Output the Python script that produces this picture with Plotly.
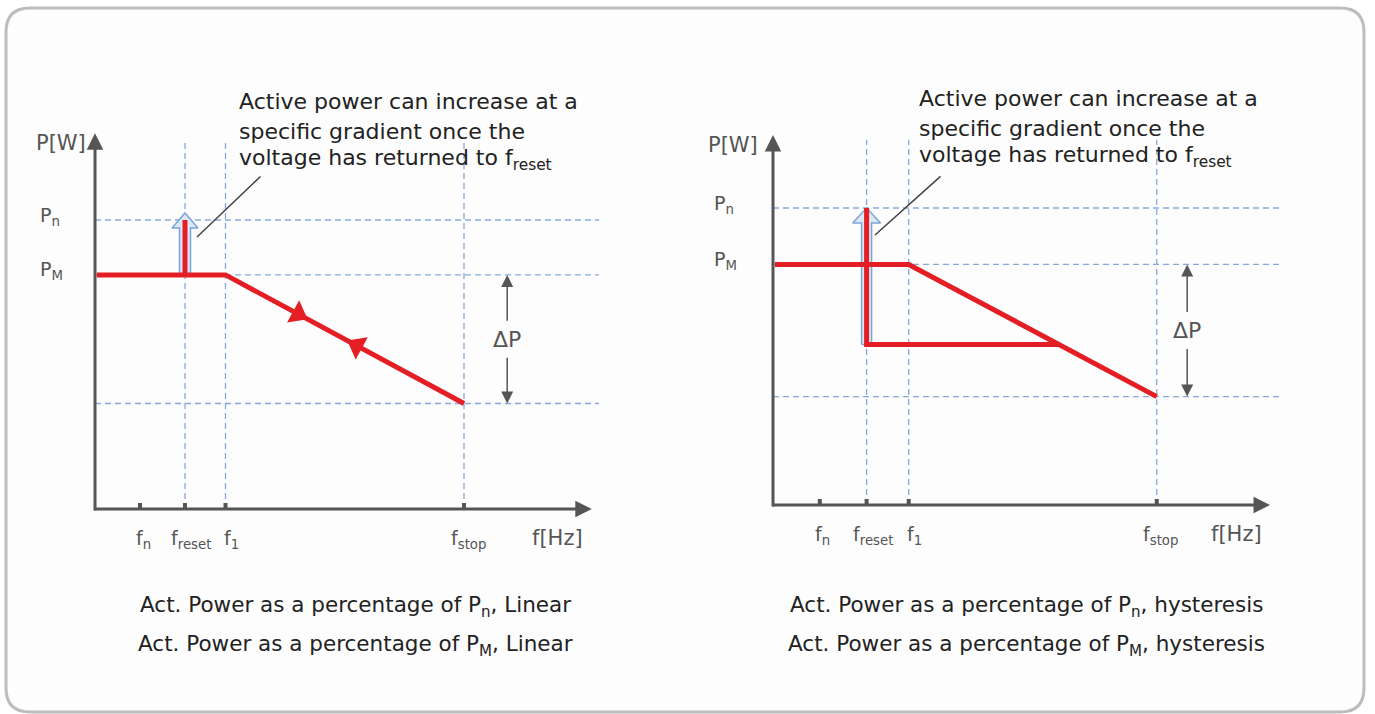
import plotly.graph_objects as go

# frequency points on the f axis (schematic units)
F_TICKS = ["f<sub>n</sub>", "f<sub>reset</sub>", "f<sub>1</sub>", "f<sub>stop</sub>"]
F_N = 1.0
F_RESET = 2.0
F_1 = 2.9
F_STOP = 8.2
F_HYST = 6.1  # hysteresis level meets the droop line

# power levels (fraction of Pn)
P_N = 1.0
P_M = 0.81
P_STOP = 0.365
P_HYST = 0.54
P_TICKS = ["P<sub>n</sub>", "P<sub>M</sub>"]

# direction markers on the linear droop
DIR_F = [4.51, 5.82]
DIR_P = [0.675, 0.565]
DIR_SYMBOLS = ["triangle-right", "triangle-left"]

NOTE_LINES = [
    "Active power can increase at a",
    "specific gradient once the",
    "voltage has returned to f<sub>reset</sub>",
]
CAPTIONS = [
    ["Act. Power as a percentage of P<sub>n</sub>, Linear",
     "Act. Power as a percentage of P<sub>M</sub>, Linear"],
    ["Act. Power as a percentage of P<sub>n</sub>, hysteresis",
     "Act. Power as a percentage of P<sub>M</sub>, hysteresis"],
]

W, H = 1375, 714
FONT = "DejaVu Sans"
RED = "#e31e24"
GUIDE = "#86a9dc"
AXIS = "#555555"
TEXT = "#222222"

# pixel layout of each panel (origin, px per unit, extents)
PANELS = [
    dict(ox=95, oy=509, sx=45.0, sy=289.0, x_end=11.04, y_end=1.30,
         guide_top=1.27, guide_right=11.2, dp_f=9.16, tip_px=7,
         shaft=5.5, head=13, lx=38, wx=88, note_x=237, note_y=[102, 131, 159],
         leader=(197, 237, 65, -62), cap_x=355, hyst=False),
    dict(ox=773, oy=505, sx=46.8, sy=297.0, x_end=10.62, y_end=1.246,
         guide_top=1.23, guide_right=10.9, dp_f=8.85, tip_px=0,
         shaft=5, head=14, lx=712, wx=760, note_x=917, note_y=[99, 128, 156],
         leader=(875, 235, 67, -60), cap_x=1026, hyst=True),
]
TOP_PX, BOT_PX = 60, 590


def px(x):
    return x / W


def py(y):
    return 1 - y / H


fig = go.Figure()
annotations = []

for i, p in enumerate(PANELS):
    sfx = "" if i == 0 else str(i + 1)
    xr, yr = "x" + sfx, "y" + sfx
    x0, x1 = p["ox"] - 75, p["ox"] + 585
    fig.update_layout({
        "xaxis" + sfx: dict(domain=[px(x0), px(x1)],
                            range=[(x0 - p["ox"]) / p["sx"], (x1 - p["ox"]) / p["sx"]],
                            visible=False, fixedrange=True, anchor=yr),
        "yaxis" + sfx: dict(domain=[py(BOT_PX), py(TOP_PX)],
                            range=[(p["oy"] - BOT_PX) / p["sy"], (p["oy"] - TOP_PX) / p["sy"]],
                            visible=False, fixedrange=True, anchor=xr),
    })

    # dashed guides
    hx, hy = [], []
    for lvl in [P_N, P_M, P_STOP]:
        hx += [0, p["guide_right"], None]
        hy += [lvl, lvl, None]
    for f in [F_RESET, F_1, F_STOP]:
        hx += [f, f, None]
        hy += [0, p["guide_top"], None]
    fig.add_trace(go.Scatter(x=hx, y=hy, mode="lines", xaxis=xr, yaxis=yr,
                             line=dict(color=GUIDE, width=1.3, dash="6px,4px"),
                             hoverinfo="skip", showlegend=False))

    # hollow blue arrow around the reset jump
    base = P_HYST if p["hyst"] else P_M
    top = P_N + p["tip_px"] / p["sy"]
    sw, hw = p["shaft"] / p["sx"], p["head"] / p["sx"]
    hh = 15 / p["sy"]
    ax_ = [F_RESET - sw, F_RESET - sw, F_RESET - hw, F_RESET,
           F_RESET + hw, F_RESET + sw, F_RESET + sw, F_RESET - sw]
    ay_ = [base, top - hh, top - hh, top, top - hh, top - hh, base, base]
    fig.add_trace(go.Scatter(x=ax_, y=ay_, mode="lines", fill="toself",
                             fillcolor="#dce7f5", xaxis=xr, yaxis=yr,
                             line=dict(color="#7ea4da", width=1.5),
                             hoverinfo="skip", showlegend=False))

    # red characteristic
    if p["hyst"]:
        rx = [0.04, F_1, F_STOP, None, F_RESET, F_RESET, F_HYST]
        ry = [P_M, P_M, P_STOP, None, P_N, P_HYST, P_HYST]
    else:
        rx = [0.04, F_1, F_STOP, None, F_RESET, F_RESET]
        ry = [P_M, P_M, P_STOP, None, P_M, P_N]
    fig.add_trace(go.Scatter(x=rx, y=ry, mode="lines", xaxis=xr, yaxis=yr,
                             line=dict(color=RED, width=5),
                             hoverinfo="skip", showlegend=False))

    if not p["hyst"]:
        fig.add_trace(go.Scatter(
            x=DIR_F, y=DIR_P, mode="markers", xaxis=xr, yaxis=yr,
            marker=dict(symbol=DIR_SYMBOLS, size=22, color=RED, angle=28.5,
                        line=dict(width=0)),
            hoverinfo="skip", showlegend=False))

    # tick marks on f axis
    tx, ty = [], []
    for f in [F_N, F_RESET, F_1, F_STOP]:
        tx += [f, f, None]
        ty += [0, 6 / p["sy"], None]
    fig.add_trace(go.Scatter(x=tx, y=ty, mode="lines", xaxis=xr, yaxis=yr,
                             line=dict(color=AXIS, width=4),
                             hoverinfo="skip", showlegend=False))

    # axes with arrowheads
    for (x, y, axx, ayy) in [(p["x_end"], 0, -0.05, 0), (0, p["y_end"], 0, -0.01)]:
        annotations.append(dict(x=x, y=y, ax=axx, ay=ayy, xref=xr, yref=yr,
                                axref=xr, ayref=yr, text="", showarrow=True,
                                arrowhead=2, arrowsize=1.1, arrowwidth=3,
                                arrowcolor=AXIS, standoff=0))

    # delta P
    mid = (P_M + P_STOP) / 2
    gap = 17 / p["sy"]
    for tgt, src in [(P_M, mid + gap), (P_STOP, mid - gap)]:
        annotations.append(dict(x=p["dp_f"], y=tgt, ax=p["dp_f"], ay=src,
                                xref=xr, yref=yr, axref=xr, ayref=yr, text="",
                                showarrow=True, arrowhead=2, arrowsize=1.6,
                                arrowwidth=1.5, arrowcolor=AXIS, standoff=0))
    annotations.append(dict(x=p["dp_f"], y=mid, xref=xr, yref=yr, text="ΔP",
                            showarrow=False, font=dict(size=22, color=AXIS)))

    # f labels
    for f, lab, sh in zip([F_N, F_RESET, F_1, F_STOP], F_TICKS, [3, 6, 6, 4]):
        annotations.append(dict(x=f, y=0, xref=xr, yref=yr, text=lab, xshift=sh,
                                yshift=-30, showarrow=False,
                                font=dict(size=19, color=AXIS)))
    annotations.append(dict(x=p["x_end"], y=0, xref=xr, yref=yr, text="f[Hz]",
                            xshift=-34, yshift=-29, showarrow=False,
                            font=dict(size=21, color=AXIS)))

    # P labels
    for lvl, lab in zip([P_N, P_M], P_TICKS):
        annotations.append(dict(x=px(p["lx"]), y=lvl, xref="paper", yref=yr,
                                text=lab, xanchor="left", yanchor="middle",
                                yshift=4, showarrow=False,
                                font=dict(size=19, color=AXIS)))
    annotations.append(dict(x=px(p["wx"]), y=p["y_end"], xref="paper", yref=yr,
                            text="P[W]", xanchor="right", yanchor="middle",
                            yshift=-10, showarrow=False,
                            font=dict(size=21, color=AXIS)))

    # note text and leader line
    for line, yy in zip(NOTE_LINES, p["note_y"]):
        annotations.append(dict(x=px(p["note_x"]), y=py(yy), xref="paper",
                                yref="paper", text=line, xanchor="left",
                                yanchor="middle", showarrow=False,
                                font=dict(size=22, color=TEXT)))
    lx0, ly0, dx, dy = p["leader"]
    annotations.append(dict(x=px(lx0), y=py(ly0), xref="paper", yref="paper",
                            ax=dx, ay=dy, text="", showarrow=True, arrowhead=0,
                            arrowwidth=1.5, arrowcolor="#444444"))

    # captions
    for cap, yy in zip(CAPTIONS[i], [606, 645]):
        annotations.append(dict(x=px(p["cap_x"]), y=py(yy), xref="paper",
                                yref="paper", text=cap, xanchor="center",
                                yanchor="middle", showarrow=False,
                                font=dict(size=21.5, color=TEXT)))

# rounded frame
L, R, T, B, r = 6, 1364, 8, 712, 24
frame = (f"M {px(L + r)},{py(T)} L {px(R - r)},{py(T)} Q {px(R)},{py(T)} {px(R)},{py(T + r)} "
         f"L {px(R)},{py(B - r)} Q {px(R)},{py(B)} {px(R - r)},{py(B)} "
         f"L {px(L + r)},{py(B)} Q {px(L)},{py(B)} {px(L)},{py(B - r)} "
         f"L {px(L)},{py(T + r)} Q {px(L)},{py(T)} {px(L + r)},{py(T)} Z")

fig.update_layout(
    width=W, height=H, autosize=False,
    margin=dict(l=0, r=0, t=0, b=0),
    paper_bgcolor="white", plot_bgcolor="rgba(0,0,0,0)",
    font=dict(family=FONT, color=TEXT),
    showlegend=False,
    annotations=annotations,
    shapes=[dict(type="path", path=frame, xref="paper", yref="paper",
                 line=dict(color="#bdbdbd", width=3), fillcolor="#fdfdfd",
                 layer="below")],
)

fig.write_html("out.html", config={"displayModeBar": False},
               post_script="document.body.style.margin='0';")
